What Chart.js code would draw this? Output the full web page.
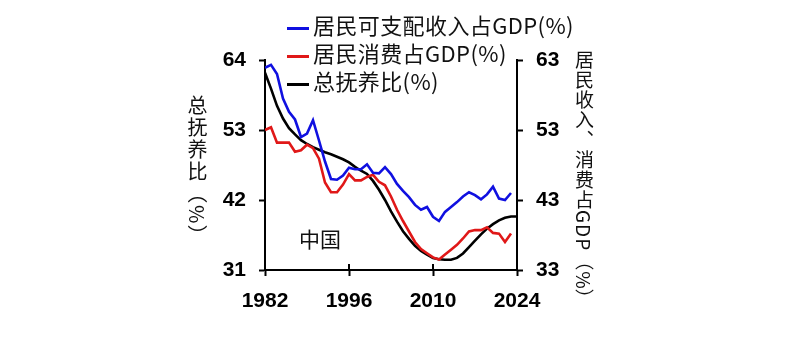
<!DOCTYPE html>
<html>
<head>
<meta charset="utf-8">
<script src="https://cdn.jsdelivr.net/npm/chart.js@4.4.0/dist/chart.umd.min.js"></script>
<style>
  body { margin: 0; background: #fff; }
  #wrap { position: relative; width: 800px; height: 349px; }
  #legend { position: absolute; left: 287px; top: 10px; font-family: "Noto Sans CJK SC"; font-size: 22px; letter-spacing: 0.4px; color: #111; }
  #legend div { height: 28px; line-height: 28px; white-space: nowrap; }
  #legend span.sw { display: inline-block; width: 22px; height: 3px; vertical-align: middle; margin-right: 4px; }
  .vt { position: absolute; writing-mode: vertical-rl; font-family: "Noto Sans CJK SC"; color: #111; white-space: nowrap; }
  #note { position: absolute; left: 299px; top: 223px; font-family: "Noto Sans CJK SC"; font-size: 21px; color: #111; }
</style>
</head>
<body>
<div id="wrap">
  <canvas id="c" width="800" height="349"></canvas>
  <div id="legend"></div>
  <div class="vt" id="ltitle" style="left:183px; top:95px; font-size:20px; letter-spacing:2px;">总抚养比（%）</div>
  <div class="vt" id="rtitle" style="left:571px; top:50px; font-size:19px; letter-spacing:1px;">居民收入、消费占GDP（%）</div>
  <div id="note">中国</div>
</div>
<script>
// years on the x axis
const years = [1982, 1983, 1984, 1985, 1986, 1987, 1988, 1989, 1990, 1991,
  1992, 1993, 1994, 1995, 1996, 1997, 1998, 1999, 2000, 2001,
  2002, 2003, 2004, 2005, 2006, 2007, 2008, 2009, 2010, 2011,
  2012, 2013, 2014, 2015, 2016, 2017, 2018, 2019, 2020, 2021,
  2022, 2023, 2024];

// right axis, 1982-2023
const incomeShare = [61.9, 62.3, 61.0, 57.5, 55.6, 54.5, 52.0, 52.5, 54.4, 51.5,
  48.5, 46.0, 45.9, 46.5, 47.6, 47.4, 47.4, 48.1, 46.9, 46.8,
  47.7, 46.7, 45.3, 44.3, 43.4, 42.3, 41.6, 42.0, 40.6, 40.0,
  41.3, 42.0, 42.7, 43.5, 44.1, 43.7, 43.1, 43.8, 44.9, 43.2,
  43.0, 44.0];

const consumptionShare = [53.0, 53.4, 51.2, 51.2, 51.2, 49.9, 50.1, 50.9, 50.4, 48.9,
  45.5, 44.1, 44.1, 45.2, 46.7, 45.8, 45.8, 46.3, 46.6, 45.6,
  45.1, 43.5, 41.6, 40.0, 38.5, 37.0, 36.0, 35.4, 34.8, 34.5,
  35.2, 35.9, 36.6, 37.5, 38.5, 38.7, 38.7, 39.1, 38.3, 38.2,
  37.0, 38.2];

// left axis, 1982-2024
const dependencyRatio = [62.0, 59.5, 56.8, 54.8, 53.3, 52.3, 51.4, 50.8, 50.3, 49.9,
  49.5, 49.2, 48.8, 48.4, 47.9, 47.2, 46.6, 46.1, 45.0, 43.6,
  42.0, 40.2, 38.6, 37.1, 35.9, 34.8, 34.0, 33.4, 32.9, 32.7,
  32.6, 32.6, 32.9, 33.6, 34.6, 35.6, 36.6, 37.5, 38.2, 38.8,
  39.2, 39.4, 39.4];

const xTicks = [1982, 1996, 2010, 2024];
const leftTicks = [31, 42, 53, 64];
const rightTicks = [33, 43, 53, 63];

const toPoints = arr => arr.map((v, i) => ({ x: years[i], y: v }));

const tickFont = { family: 'Liberation Sans', size: 21, weight: 'bold' };

// x ticks also poke up into the plot
const innerTicks = {
  id: 'innerTicks',
  afterDraw(chart) {
    const ctx = chart.ctx, xs = chart.scales.x, a = chart.chartArea;
    ctx.save();
    ctx.strokeStyle = '#000';
    ctx.lineWidth = 2;
    xTicks.forEach(t => {
      const px = xs.getPixelForValue(t);
      ctx.beginPath();
      ctx.moveTo(px, a.bottom);
      ctx.lineTo(px, a.bottom - 6);
      ctx.stroke();
    });
    ctx.restore();
  }
};

const chart = new Chart(document.getElementById('c'), {
  type: 'line',
  data: {
    datasets: [
      { label: '居民可支配收入占GDP(%)', data: toPoints(incomeShare), borderColor: '#1010e0', yAxisID: 'y1' },
      { label: '居民消费占GDP(%)', data: toPoints(consumptionShare), borderColor: '#e01818', yAxisID: 'y1' },
      { label: '总抚养比(%)', data: toPoints(dependencyRatio), borderColor: '#000000', yAxisID: 'y' }
    ]
  },
  options: {
    responsive: false,
    devicePixelRatio: 1,
    animation: false,
    layout: { padding: { left: 220, right: 238, top: 60, bottom: 35 } },
    elements: {
      line: { borderWidth: 2.6, tension: 0, fill: false },
      point: { radius: 0 }
    },
    plugins: { legend: { display: false }, tooltip: { enabled: false } },
    scales: {
      x: {
        type: 'linear', min: 1982, max: 2024,
        afterBuildTicks: s => { s.ticks = xTicks.map(v => ({ value: v })); },
        afterFit: s => { s.height = 44; },
        ticks: { font: tickFont, color: '#000', padding: 13, maxRotation: 0, callback: v => String(v) },
        grid: { drawOnChartArea: false, tickLength: 6, tickWidth: 2, tickColor: '#000' },
        border: { color: '#000', width: 2 }
      },
      y: {
        position: 'left', min: 31, max: 64,
        afterBuildTicks: s => { s.ticks = leftTicks.map(v => ({ value: v })); },
        afterFit: s => { s.width = 45; },
        ticks: { font: tickFont, color: '#000', padding: 13 },
        grid: { drawOnChartArea: false, tickLength: 6, tickWidth: 2, tickColor: '#000' },
        border: { color: '#000', width: 2 }
      },
      y1: {
        position: 'right', min: 33, max: 63,
        afterBuildTicks: s => { s.ticks = rightTicks.map(v => ({ value: v })); },
        afterFit: s => { s.width = 45; },
        ticks: { font: tickFont, color: '#000', padding: 13 },
        grid: { drawOnChartArea: false, tickLength: 6, tickWidth: 2, tickColor: '#000' },
        border: { color: '#000', width: 2 }
      }
    }
  },
  plugins: [innerTicks]
});

// legend built from the datasets
const legend = document.getElementById('legend');
chart.data.datasets.forEach(ds => {
  const row = document.createElement('div');
  const sw = document.createElement('span');
  sw.className = 'sw';
  sw.style.background = ds.borderColor;
  row.appendChild(sw);
  row.appendChild(document.createTextNode(ds.label));
  legend.appendChild(row);
});
</script>
</body>
</html>
